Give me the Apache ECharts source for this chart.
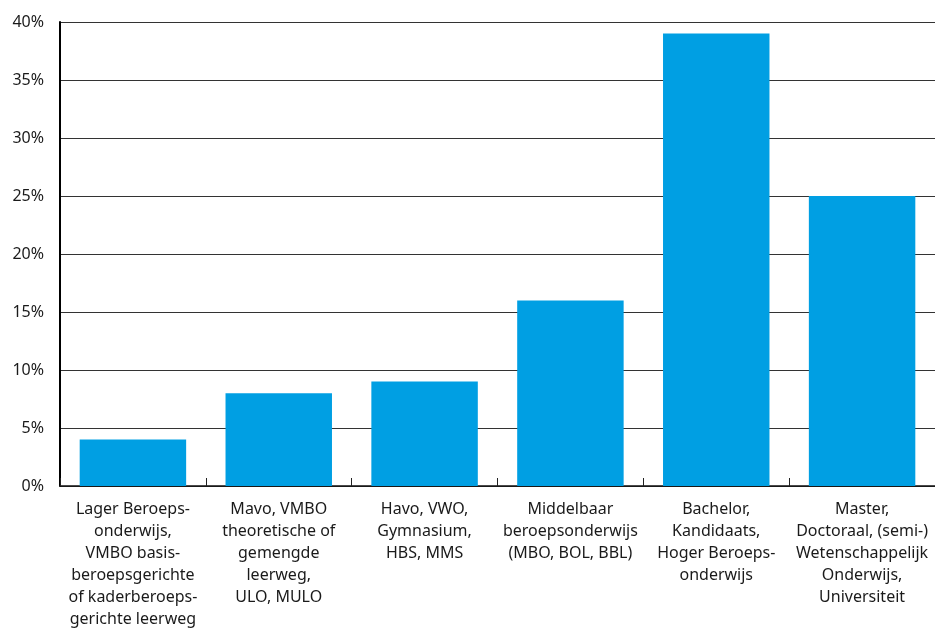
<!DOCTYPE html>
<html>
<head>
<meta charset="utf-8">
<script src="https://cdn.jsdelivr.net/npm/echarts@6/dist/echarts.min.js"></script>
<style>
html,body{margin:0;padding:0;background:#fff;}
#chart{width:935px;height:632px;}
</style>
</head>
<body>
<div id="chart"></div>
<script>
var categories = [
  "Lager Beroeps-\nonderwijs,\nVMBO basis-\nberoepsgerichte\nof kaderberoeps-\ngerichte leerweg",
  "Mavo, VMBO\ntheoretische of\ngemengde\nleerweg,\nULO, MULO",
  "Havo, VWO,\nGymnasium,\nHBS, MMS",
  "Middelbaar\nberoepsonderwijs\n(MBO, BOL, BBL)",
  "Bachelor,\nKandidaats,\nHoger Beroeps-\nonderwijs",
  "Master,\nDoctoraal, (semi-)\nWetenschappelijk\nOnderwijs,\nUniversiteit"
];
var values = [4, 8, 9, 16, 39, 25];
var yMax = 40;
var yInterval = 5;

var chart = echarts.init(document.getElementById('chart'));
var font = '"Noto Sans", sans-serif';
chart.setOption({
  animation: false,
  grid: {left: 60, right: 0, top: 22, bottom: 146, containLabel: false},
  xAxis: {
    type: 'category',
    data: categories,
    boundaryGap: true,
    axisLine: {lineStyle: {color: '#111', width: 1.5}},
    axisTick: {show: true, inside: true, length: 8, lineStyle: {color: '#222', width: 1}},
    axisLabel: {
      interval: 0,
      margin: 12,
      color: '#1a1a1a',
      fontFamily: font,
      fontSize: 16,
      lineHeight: 22,
      align: 'center',
      verticalAlign: 'top'
    }
  },
  yAxis: {
    type: 'value',
    min: 0,
    max: yMax,
    interval: yInterval,
    axisLine: {show: true, lineStyle: {color: '#000', width: 2}},
    axisTick: {show: false},
    splitLine: {lineStyle: {color: '#333', width: 1.2}},
    axisLabel: {
      formatter: '{value}%',
      color: '#1a1a1a',
      fontFamily: font,
      fontSize: 16,
      margin: 16,
      padding: [0, 0, 11, 0]
    }
  },
  series: [{
    type: 'bar',
    data: values,
    barCategoryGap: '27%',
    itemStyle: {color: '#009FE3'}
  }]
});
</script>
</body>
</html>
